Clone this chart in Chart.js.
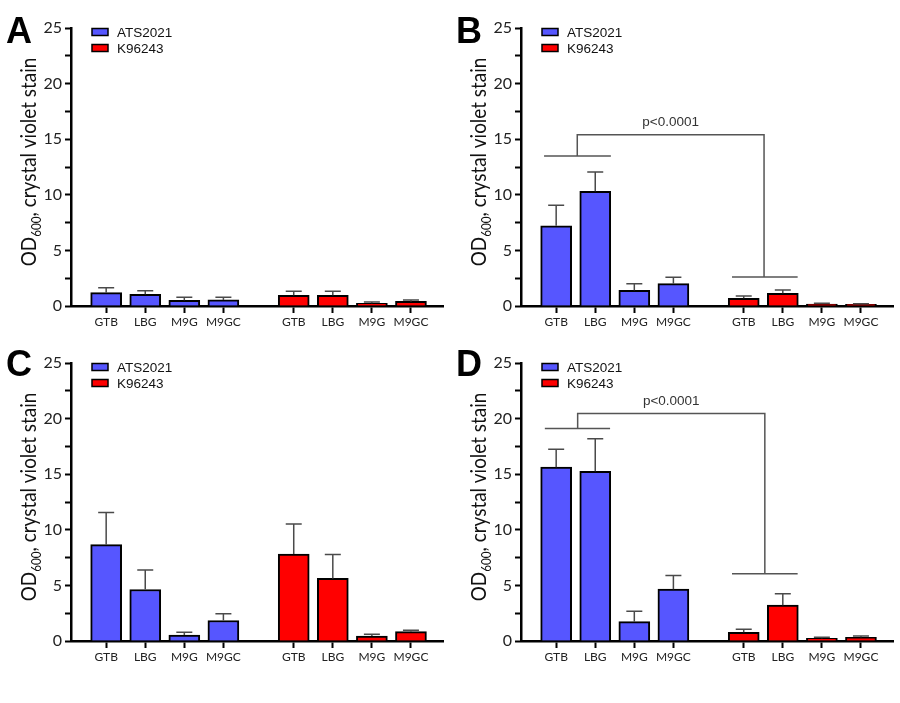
<!DOCTYPE html>
<html><head><meta charset="utf-8">
<script src="https://cdn.jsdelivr.net/npm/chart.js@4"></script>
<style>
body{margin:0;background:#fff;width:900px;height:703px;position:relative;overflow:hidden}
canvas{position:absolute}
</style></head><body>
<canvas id="cA" width="450" height="330" style="left:0;top:0"></canvas>
<canvas id="cB" width="450" height="330" style="left:450px;top:0"></canvas>
<canvas id="cC" width="450" height="330" style="left:0;top:335px"></canvas>
<canvas id="cD" width="450" height="330" style="left:450px;top:335px"></canvas>
<script>
// ---- data ----
const categories = ['GTB', 'LBG', 'M9G', 'M9GC'];
const strains = ['ATS2021', 'K96243'];
const xPosATS = [0, 1, 2, 3];
const xPosK96 = [4.8, 5.8, 6.8, 7.8];
const yTickStep = 2.5;
const yLabelStep = 5;

const meanA_ATS = [1.20, 1.05, 0.51, 0.55];
const sdA_ATS   = [0.45, 0.32, 0.27, 0.23];
const meanA_K96 = [0.97, 0.97, 0.24, 0.41];
const sdA_K96   = [0.35, 0.35, 0.12, 0.14];

const meanB_ATS = [7.21, 10.31, 1.41, 2.01];
const sdB_ATS   = [1.86, 1.74, 0.60, 0.57];
const meanB_K96 = [0.69, 1.14, 0.18, 0.15];
const sdB_K96   = [0.21, 0.30, 0.06, 0.06];

const meanC_ATS = [8.66, 4.63, 0.54, 1.84];
const sdC_ATS   = [2.89, 1.75, 0.24, 0.60];
const meanC_K96 = [7.82, 5.63, 0.45, 0.84];
const sdC_K96   = [2.71, 2.16, 0.15, 0.12];

const meanD_ATS = [15.63, 15.26, 1.74, 4.66];
const sdD_ATS   = [1.62, 2.92, 0.93, 1.23];
const meanD_K96 = [0.78, 3.22, 0.24, 0.33];
const sdD_K96   = [0.27, 1.02, 0.09, 0.12];

// significance brackets: [x-from, x-to] in x units, heights in y units
const bracketB = { leftX: [-0.31, 1.40], leftY: 13.5, midX: [0.54, 5.32], topY: 15.4, rightX: [4.50, 6.18], rightY: 2.6, labelY: 16.5, label: 'p<0.0001' };
const bracketD = { leftX: [-0.29, 1.38], leftY: 19.1, midX: [0.55, 5.34], topY: 20.45, rightX: [4.50, 6.18], rightY: 6.05, labelY: 21.6, label: 'p<0.0001' };

const BLUE = '#5656ff';
const RED = '#ff0000';

// ---- plugins ----
const errorBars = {
  id: 'errorBars',
  afterDatasetsDraw(chart) {
    const ctx = chart.ctx, ys = chart.scales.y;
    ctx.save();
    ctx.strokeStyle = '#4a4a4a';
    ctx.lineWidth = 1.5;
    chart.data.datasets.forEach((ds, di) => {
      const meta = chart.getDatasetMeta(di);
      meta.data.forEach((el, i) => {
        const top = ys.getPixelForValue(ds.data[i].y + ds.sd[i]);
        ctx.beginPath();
        ctx.moveTo(el.x, el.y);
        ctx.lineTo(el.x, top);
        ctx.moveTo(el.x - 8, top);
        ctx.lineTo(el.x + 8, top);
        ctx.stroke();
      });
    });
    ctx.restore();
  }
};

const decor = {
  id: 'decor',
  afterDraw(chart, args, opts) {
    const ctx = chart.ctx, xs = chart.scales.x, ys = chart.scales.y;
    const ca = chart.chartArea;
    ctx.save();
    // panel letter
    ctx.fillStyle = '#000';
    ctx.font = 'bold 36px "Liberation Sans", Arial, sans-serif';
    ctx.textBaseline = 'alphabetic';
    ctx.textAlign = 'left';
    ctx.fillText(opts.letter, 6, opts.letterBase);
    // legend
    const lx = ca.left + 21;
    chart.data.datasets.forEach((ds, i) => {
      const cy = 32 + i * 16;
      ctx.fillStyle = ds.backgroundColor;
      ctx.fillRect(lx, cy - 3.5, 16, 7);
      ctx.strokeStyle = '#000';
      ctx.lineWidth = 1.5;
      ctx.strokeRect(lx, cy - 3.5, 16, 7);
      ctx.fillStyle = '#111';
      ctx.font = '13.5px "Liberation Sans", Arial, sans-serif';
      ctx.textBaseline = 'middle';
      ctx.fillText(ds.label, lx + 25, cy + 1);
    });
    // y title with subscript
    ctx.save();
    ctx.translate(36, (ca.top + ca.bottom) / 2 - 5);
    ctx.rotate(-Math.PI / 2);
    ctx.scale(0.9, 1);
    const f1 = '21px Lato, sans-serif', f2 = '13px Lato, sans-serif';
    const t1 = 'OD', t2 = '600', t3 = ', crystal violet stain';
    ctx.font = f1; const w1 = ctx.measureText(t1).width, w3 = ctx.measureText(t3).width;
    ctx.font = f2; const w2 = ctx.measureText(t2).width;
    let x = -(w1 + w2 + w3) / 2;
    ctx.fillStyle = '#111';
    ctx.textBaseline = 'alphabetic';
    ctx.font = f1; ctx.fillText(t1, x, 0); x += w1;
    ctx.font = f2; ctx.fillText(t2, x, 5); x += w2;
    ctx.font = f1; ctx.fillText(t3, x, 0);
    ctx.restore();
    // bracket
    const b = opts.bracket;
    if (b) {
      const X = v => xs.getPixelForValue(v), Y = v => ys.getPixelForValue(v);
      ctx.strokeStyle = '#555';
      ctx.lineWidth = 1.5;
      ctx.beginPath();
      ctx.moveTo(X(b.leftX[0]), Y(b.leftY)); ctx.lineTo(X(b.leftX[1]), Y(b.leftY));
      ctx.moveTo(X(b.rightX[0]), Y(b.rightY)); ctx.lineTo(X(b.rightX[1]), Y(b.rightY));
      ctx.moveTo(X(b.midX[0]), Y(b.leftY)); ctx.lineTo(X(b.midX[0]), Y(b.topY));
      ctx.lineTo(X(b.midX[1]), Y(b.topY)); ctx.lineTo(X(b.midX[1]), Y(b.rightY));
      ctx.stroke();
      ctx.fillStyle = '#333';
      ctx.font = '13.5px "Liberation Sans", Arial, sans-serif';
      ctx.textAlign = 'center';
      ctx.textBaseline = 'middle';
      ctx.fillText(b.label, (X(b.midX[0]) + X(b.midX[1])) / 2, Y(b.labelY));
    }
    ctx.restore();
  }
};

const allPos = xPosATS.concat(xPosK96);

function makeChart(id, letter, letterBase, atsMean, atsSd, kMean, kSd, bracket) {
  new Chart(document.getElementById(id), {
    type: 'bar',
    data: {
      datasets: [
        { label: strains[0], data: xPosATS.map((x, i) => ({ x, y: atsMean[i] })), sd: atsSd,
          backgroundColor: BLUE, borderColor: '#000', borderWidth: 2, grouped: false, barThickness: 31 },
        { label: strains[1], data: xPosK96.map((x, i) => ({ x, y: kMean[i] })), sd: kSd,
          backgroundColor: RED, borderColor: '#000', borderWidth: 2, grouped: false, barThickness: 31 }
      ]
    },
    options: {
      responsive: false,
      animation: false,
      layout: { padding: { left: 0, right: 7, top: 28, bottom: 0 } },
      plugins: {
        legend: { display: false },
        tooltip: { enabled: false },
        decor: { letter, letterBase, bracket }
      },
      scales: {
        x: {
          type: 'linear', min: -0.9, max: 8.62, offset: false,
          afterBuildTicks: s => { s.ticks = allPos.map(v => ({ value: v })); },
          afterFit: s => { s.height = 24; },
          ticks: {
            autoSkip: false, maxRotation: 0, padding: 2, color: '#222',
            font: { family: 'Lato', size: 12 },
            callback: v => { const i = allPos.findIndex(p => Math.abs(p - v) < 1e-6); return i < 0 ? '' : categories[i % 4]; }
          },
          grid: { offset: false, drawOnChartArea: false, drawTicks: true, tickLength: 7, tickWidth: 2, tickColor: '#000' },
          border: { color: '#000', width: 2.5 }
        },
        y: {
          type: 'linear', min: 0, max: 25,
          afterFit: s => { s.width = 71; },
          ticks: {
            stepSize: yTickStep, padding: 3, color: '#222',
            font: { family: 'Lato', size: 16 },
            callback: v => (Math.abs(v % yLabelStep) < 1e-6 ? v : '')
          },
          grid: { drawOnChartArea: false, drawTicks: true, tickLength: 6, tickWidth: 2, tickColor: '#000' },
          border: { color: '#000', width: 2.5 }
        }
      }
    },
    plugins: [errorBars, decor]
  });
}

makeChart('cA', 'A', 43, meanA_ATS, sdA_ATS, meanA_K96, sdA_K96, null);
makeChart('cB', 'B', 43, meanB_ATS, sdB_ATS, meanB_K96, sdB_K96, bracketB);
makeChart('cC', 'C', 41, meanC_ATS, sdC_ATS, meanC_K96, sdC_K96, null);
makeChart('cD', 'D', 41, meanD_ATS, sdD_ATS, meanD_K96, sdD_K96, bracketD);
</script>
</body></html>
